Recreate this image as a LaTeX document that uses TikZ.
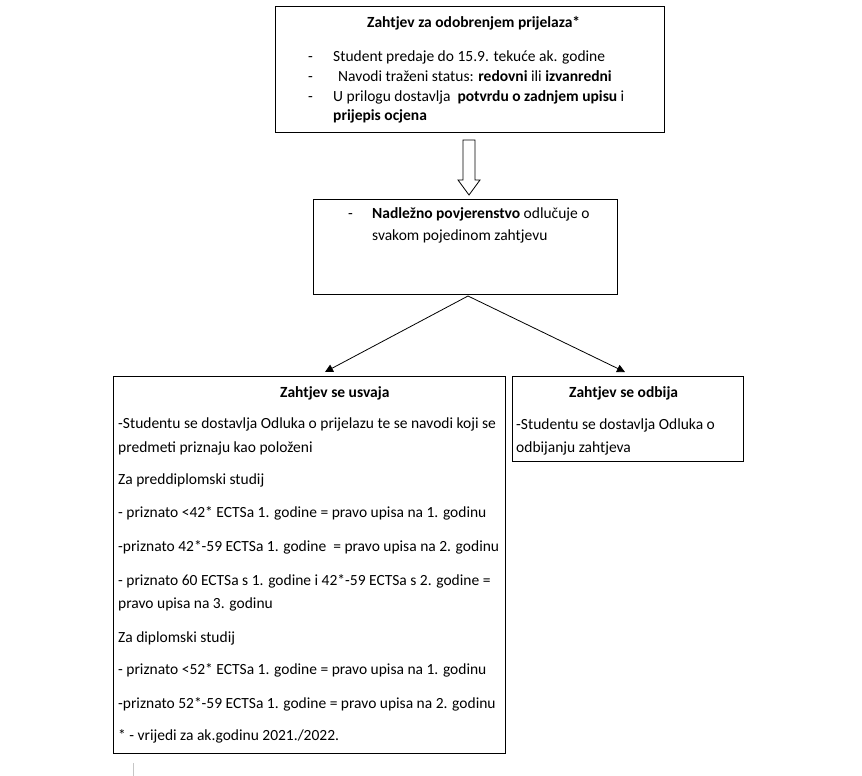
\documentclass[tikz,border=0pt]{standalone}
\usepackage{fontspec}
\setmainfont{Carlito}
\usetikzlibrary{arrows.meta}
\begin{document}
\begin{tikzpicture}[x=1pt,y=-1pt,
  box/.style={draw, line width=1.2pt, inner sep=0pt, anchor=north west},
  txt/.style={anchor=base west, inner sep=0pt, font=\fontsize{15.5}{18}\selectfont},
  ttl/.style={anchor=base west, inner sep=0pt, font=\fontsize{15.5}{18}\selectfont\bfseries},
  conn/.style={line width=0.8pt, -{Triangle[length=8pt,width=8pt]}},
  hollow/.style={draw, line width=0.8pt, line join=miter}]
\useasboundingbox[fill=white] (0,0) rectangle (862,776);

% boxes
\node[box, minimum width=389pt, minimum height=126pt] (top) at (275,6) {};
\node[box, minimum width=304pt, minimum height=95pt] (mid) at (313,199) {};
\node[box, minimum width=392pt, minimum height=377pt] (acc) at (113,376) {};
\node[box, minimum width=231pt, minimum height=85pt] (rej) at (512,376) {};

% hollow block arrow
\draw[hollow] (463,140) -- (475,140) -- (475,180) -- (480,180) -- (469,195) -- (458,180) -- (463,180) -- cycle;

% connectors
\coordinate (apex) at (468,296);
\coordinate (lt) at (325,372);
\coordinate (rt) at (625,372);
\draw[conn] (apex) -- (lt);
\draw[conn] (apex) -- (rt);

% top box text
\node[ttl] (t0) at (367,28) {Zahtjev za odobrenjem prijelaza*};
\node[txt] (td1) at (308,62) {-};
\node[txt] (t1) at (333,62) {Student predaje do 15.9. tekuće ak. godine};
\node[txt] (td2) at (308,81.5) {-};
\node[txt] (t2) at (338,81.5) {Navodi traženi status: \textbf{redovni} ili \textbf{izvanredni}};
\node[txt] (td3) at (308,101) {-};
\node[txt] (t3) at (333,101) {U prilogu dostavlja \ \textbf{potvrdu o zadnjem upisu} i};
\node[txt] (t4) at (333,121) {\textbf{prijepis ocjena}};

% middle box text
\node[txt] (md) at (348,218) {-};
\node[txt] (m1) at (372,218) {\textbf{Nadležno povjerenstvo} odlučuje o};
\node[txt] (m2) at (372,240) {svakom pojedinom zahtjevu};

% accepted box text
\node[ttl] (l0) at (280,397) {Zahtjev se usvaja};
\node[txt] (l1) at (118,428) {-Studentu se dostavlja Odluka o prijelazu te se navodi koji se};
\node[txt] (l2) at (118,452) {predmeti priznaju kao položeni};
\node[txt] (l3) at (118,484) {Za preddiplomski studij};
\node[txt] (l4) at (118,517) {- priznato <42* ECTSa 1. godine = pravo upisa na 1. godinu};
\node[txt] (l5) at (118,551) {-priznato 42*-59 ECTSa 1. godine \ = pravo upisa na 2. godinu};
\node[txt] (l6) at (118,585) {- priznato 60 ECTSa s 1. godine i 42*-59 ECTSa s 2. godine =};
\node[txt] (l7) at (118,608) {pravo upisa na 3. godinu};
\node[txt] (l8) at (118,642) {Za diplomski studij};
\node[txt] (l9) at (118,674) {- priznato <52* ECTSa 1. godine = pravo upisa na 1. godinu};
\node[txt] (l10) at (118,708) {-priznato 52*-59 ECTSa 1. godine = pravo upisa na 2. godinu};
\node[txt] (l11) at (118,740) {* - vrijedi za ak.godinu 2021./2022.};

% rejected box text
\node[ttl] (r0) at (569,397) {Zahtjev se odbija};
\node[txt] (r1) at (516,429) {-Studentu se dostavlja Odluka o};
\node[txt] (r2) at (516,452) {odbijanju zahtjeva};

% page margin mark
\draw[gray!45, line width=0.8pt] (133,763) -- (133,776);
\end{tikzpicture}
\end{document}
